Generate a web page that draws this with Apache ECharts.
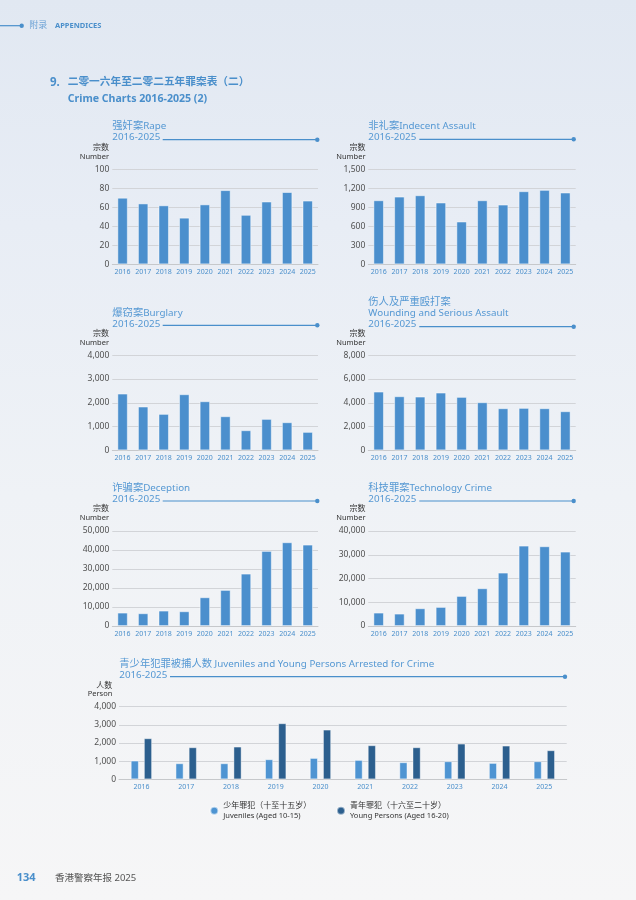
<!DOCTYPE html>
<html>
<head>
<meta charset="utf-8">
<script src="https://cdn.jsdelivr.net/npm/echarts@6/dist/echarts.min.js"></script>
<style>
html,body{margin:0;padding:0;}
body{width:636px;height:900px;background:linear-gradient(180deg,#e1e8f2 0%,#e8edf5 25%,#eff2f6 55%,#f6f6f7 100%);}
#c{width:636px;height:900px;}
</style>
</head>
<body>
<div id="c"></div>
<script>
const years = ['2016','2017','2018','2019','2020','2021','2022','2023','2024','2025'];
const rape = [70,64,62,49,63,78,52,66,76,67];
const indecent = [1010,1068,1089,974,674,1010,942,1153,1174,1132];
const burglary = [2386,1839,1530,2358,2063,1432,842,1319,1179,772];
const wounding = [4940,4547,4519,4856,4491,4042,3537,3565,3537,3284];
const deception = [7018,6667,8070,7719,15088,18947,27544,39474,44035,42807];
const tech = [5614,5193,7439,8000,12632,15860,22456,33825,33544,31298];
const juveniles = [1028,881,881,1101,1174,1064,936,991,899,991];
const youngPersons = [2257,1761,1798,3083,2734,1872,1761,1963,1853,1596];

const FF = '"Noto Sans","Noto Sans CJK SC",sans-serif';
const BLUE = '#4a8fcb';
const BAR = '#4b8fcd';
const TITLE_C = '#5598d3';

const panels = [
  {data: rape, max: 100, step: 20, grid: {left:112.3, top:169.3, width:205.7, height:95}},
  {data: indecent, max: 1500, step: 300, grid: {left:368.3, top:169.3, width:207.4, height:95}},
  {data: burglary, max: 4000, step: 1000, grid: {left:112.3, top:355.3, width:205.7, height:95}},
  {data: wounding, max: 8000, step: 2000, grid: {left:368.3, top:355.3, width:207.4, height:95}},
  {data: deception, max: 50000, step: 10000, grid: {left:112.3, top:531, width:205.7, height:95}},
  {data: tech, max: 40000, step: 10000, grid: {left:368.3, top:531, width:207.4, height:95}}
];

const grids = panels.map(p => p.grid).concat([{left:119, top:706.7, width:447.7, height:72.6}]);

function xAx(i, fs) {
  return {type:'category', gridIndex:i, data:years,
    axisTick:{show:false},
    axisLine:{lineStyle:{color:'#c6c8cb', width:1}},
    axisLabel:{color:BLUE, fontSize:fs, margin:4, interval:0, fontFamily:FF}};
}
function yAx(i, max, step, fs) {
  return {type:'value', gridIndex:i, min:0, max:max, interval:step,
    axisLine:{show:false}, axisTick:{show:false},
    splitLine:{lineStyle:{color:'#d2d4d8', width:1}},
    axisLabel:{color:'#505050', fontSize:fs, margin:3, fontFamily:FF,
      formatter: v => v.toLocaleString('en-US')}};
}

const xAxis = panels.map((p,i) => xAx(i, 7)).concat([xAx(6, 7)]);
const yAxis = panels.map((p,i) => yAx(i, p.max, p.step, 8.5)).concat([yAx(6, 4000, 1000, 8.5)]);

const series = panels.map((p,i) => ({
  type:'bar', xAxisIndex:i, yAxisIndex:i, data:p.data, barWidth:'50%',
  itemStyle:{color:BAR, borderColor:'rgba(255,255,255,0.6)', borderWidth:0.8},
  silent:true
})).concat([
  {name:'Juveniles', type:'bar', xAxisIndex:6, yAxisIndex:6, data:juveniles, barWidth:8, barGap:'65%',
   itemStyle:{color:'#4e94d2', borderColor:'rgba(255,255,255,0.6)', borderWidth:0.8}},
  {name:'Young Persons', type:'bar', xAxisIndex:6, yAxisIndex:6, data:youngPersons, barWidth:8, barGap:'65%',
   itemStyle:{color:'#2c5f8e', borderColor:'rgba(255,255,255,0.5)', borderWidth:0.8}}
]);

function T(text, x, y, size, color, opts) {
  opts = opts || {};
  const st = {text:text, x:x, y:y,
    font:(opts.bold?'bold ':'') + size + 'px ' + FF, fill:color,
    align:opts.align||'left', textAlign:opts.align||'left',
    verticalAlign:'middle', textVerticalAlign:'middle'};
  if (opts.rich) st.rich = opts.rich;
  return {type:'text', silent:true, style:st};
}
function L(x1, x2, y, dot) {
  const arr = [{type:'line', silent:true, shape:{x1:x1, y1:y, x2:x2, y2:y}, style:{stroke:BLUE, lineWidth:1.2}}];
  if (dot) arr.push({type:'circle', silent:true, shape:{cx:x2, cy:y, r:2.2}, style:{fill:BLUE}});
  return arr;
}
const headRich = {
  c:{fontSize:10.3, fontFamily:FF, fill:TITLE_C, color:TITLE_C},
  l:{fontSize:9.8, fontFamily:FF, fill:TITLE_C, color:TITLE_C}
};

let g = [];
// header
g = g.concat(L(0, 21.7, 25.7, true));
g.push(T('附录', 29.3, 25.7, 9, '#6ea3d6'));
g.push(T('APPENDICES', 55, 25.7, 7.5, BLUE, {bold:true}));
// main title
g.push(T('9.', 50, 82.3, 11.5, BLUE, {bold:true}));
g.push(T('二零一六年至二零二五年罪案表（二）', 67.7, 82.3, 10.7, BLUE, {bold:true}));
g.push(T('Crime Charts 2016-2025 (2)', 67.7, 99.3, 10.6, BLUE, {bold:true}));

function panelHead(lines, x, yFirst, lineY, lx1, lx2, unitX, unitY) {
  lines.forEach((s, k) => g.push(T(s, x, yFirst + k*11, 10, TITLE_C, {rich:headRich})));
  g = g.concat(L(lx1, lx2, lineY, true));
  g.push(T('宗数', unitX, unitY, 8, '#333', {align:'right'}));
  g.push(T('Number', unitX, unitY + 9.3, 7.5, '#333', {align:'right'}));
}
const Y = '{l|2016-2025}';
panelHead(['{c|强奸案}{l|Rape}', Y], 112.3, 126.3, 139.7, 162.7, 317.3, 109, 147.7);
panelHead(['{c|非礼案}{l|Indecent Assault}', Y], 368.3, 126.3, 139.3, 419.3, 573.7, 365.5, 147.7);
panelHead(['{c|爆窃案}{l|Burglary}', Y], 112.3, 313, 325.3, 162.7, 317.3, 109, 334);
panelHead(['{c|伤人及严重殴打案}', '{l|Wounding and Serious Assault}', Y], 368.3, 302, 326.7, 419.3, 573.7, 365.5, 334);
panelHead(['{c|诈骗案}{l|Deception}', Y], 112.3, 488.3, 501, 162.7, 317.3, 109, 508.3);
panelHead(['{c|科技罪案}{l|Technology Crime}', Y], 368.3, 488.3, 501, 419.3, 573.7, 365.5, 508.3);

// bottom chart head
g.push(T('{c|青少年犯罪被捕人数}{l| Juveniles and Young Persons Arrested for Crime}', 119.3, 664, 10, TITLE_C, {rich:headRich}));
g.push(T(Y, 119.3, 675, 10, TITLE_C, {rich:headRich}));
g = g.concat(L(170, 565, 676.7, true));
g.push(T('人数', 112.3, 685.7, 8, '#333', {align:'right'}));
g.push(T('Person', 112.3, 694, 7.5, '#333', {align:'right'}));

// footer
g.push(T('134', 16.7, 878, 11, BLUE, {bold:true}));
g.push(T('香港警察年报 2025', 55, 878, 9.5, '#555'));

const legendRich = {
  a:{fontSize:8, color:'#333', lineHeight:10, fontFamily:FF},
  b:{fontSize:7.5, color:'#333', lineHeight:10, fontFamily:FF}
};
const legendText = {
  'Juveniles': '{a|少年罪犯（十至十五岁）}\n{b|Juveniles (Aged 10-15)}',
  'Young Persons': '{a|青年罪犯（十六至二十岁）}\n{b|Young Persons (Aged 16-20)}'
};

const chart = echarts.init(document.getElementById('c'), null, {renderer:'canvas'});
chart.setOption({
  backgroundColor:'transparent',
  animation:false,
  textStyle:{fontFamily:FF},
  grid:grids,
  xAxis:xAxis,
  yAxis:yAxis,
  series:series,
  legend:[
    {data:['Juveniles'], left:209.3, top:801.7, icon:'circle', itemWidth:8, itemHeight:8, padding:0,
     formatter:n => legendText[n], textStyle:{rich:legendRich}, selectedMode:false},
    {data:['Young Persons'], left:336, top:801.7, icon:'circle', itemWidth:8, itemHeight:8, padding:0,
     formatter:n => legendText[n], textStyle:{rich:legendRich}, selectedMode:false}
  ],
  graphic:g
});
</script>
</body>
</html>
